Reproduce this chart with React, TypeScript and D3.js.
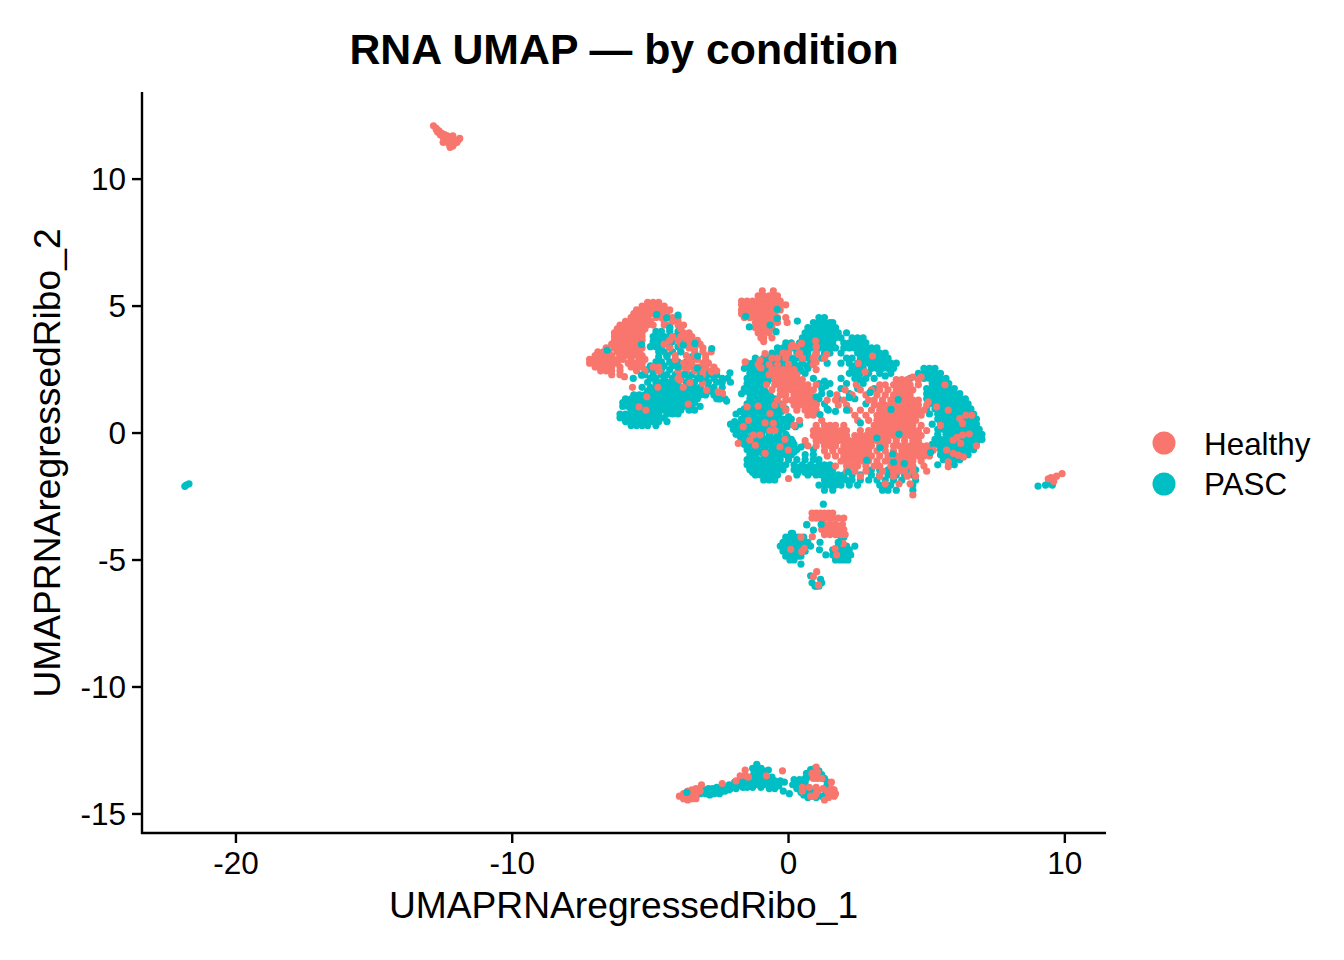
import React from "react";
import * as d3 from "d3";

type Row = [number, number[]];
type Pt = [number, number];

const titleText = "RNA UMAP — by condition";
const xLabel = "UMAPRNAregressedRibo_1";
const yLabel = "UMAPRNAregressedRibo_2";
const xTicks = [-20, -10, 0, 10];
const yTicks = [-15, -10, -5, 0, 5, 10];
const groups = ["Healthy", "PASC"];
const colors = ["#F8766D", "#00BFC4"];

// PASC cells, main cluster: [y, x values]
const pascMainRows: Row[] = [
  [4.55, [1.1, 1.3]],
  [4.35, [0.9, 1.1, 1.3, 1.5, 1.6]],
  [4.15, [0.7, 0.9, 1.1, 1.3, 1.5, 1.7]],
  [3.95, [0.6, 0.8, 1, 1.2, 1.4, 1.6, 1.8, 2.1]],
  [3.75, [0.5, 0.7, 0.9, 1.1, 1.3, 1.5, 1.7, 1.9, 2.3, 2.5, 2.7]],
  [3.55, [-0.1, 0.1, 0.4, 0.6, 0.8, 1, 1.2, 1.4, 1.6, 2, 2.2, 2.4, 2.6, 2.8]],
  [3.35, [-0.4, -0.2, 0, 0.2, 0.4, 0.6, 0.8, 1.1, 1.3, 1.5, 1.7, 2, 2.2, 2.4, 2.6, 2.8, 3, 3.2]],
  [3.15, [-0.6, -0.4, -0.2, 0, 0.3, 0.5, 0.7, 1, 1.3, 1.5, 1.9, 2.5, 2.7, 2.9, 3.1, 3.3, 3.5]],
  [2.95, [-1.2, -0.9, -0.7, -0.5, -0.3, -0.1, 0.1, 0.3, 0.5, 0.7, 0.9, 1.2, 2.1, 2.3, 2.6, 2.8, 3, 3.2, 3.4, 3.6]],
  [2.75, [-1.5, -1.3, -1.1, -0.9, -0.6, -0.3, 0.2, 0.5, 0.8, 1.4, 1.9, 2.2, 2.5, 2.7, 2.9, 3.1, 3.3, 3.5, 3.7, 3.9]],
  [2.55, [-1.6, -1.4, -1, -0.8, -0.5, -0.2, 0.1, 0.4, 0.7, 2.3, 2.5, 2.7, 3, 3.2, 3.4, 3.6, 3.8, 4.9, 5.1, 5.3]],
  [2.35, [-1.4, -1.1, -0.8, -0.5, 0.6, 2.2, 2.4, 2.6, 2.9, 3.3, 3.7, 4.7, 4.9, 5.1, 5.3, 5.5]],
  [2.15, [-1.5, -1.2, -0.9, -0.6, 0.9, 1.9, 2.4, 2.8, 3.1, 4.4, 4.7, 4.9, 5.1, 5.3, 5.5, 5.7]],
  [1.95, [-1.5, -1.2, -0.9, 1.1, 1.5, 2.1, 2.7, 5.2, 5.4, 5.6, 5.8]],
  [1.75, [-1.6, -1.3, -1, 1.2, 1.9, 2.5, 3.1, 5, 5.2, 5.4, 5.6, 5.8, 6]],
  [1.55, [-1.7, -1.4, -1, -0.8, 1.2, 1.5, 2.2, 5, 5.2, 5.4, 5.6, 5.8, 6, 6.2]],
  [1.35, [-1.4, -1.1, -0.8, -0.5, 1.1, 1.8, 2.4, 5, 5.2, 5.4, 5.6, 5.8, 6, 6.2, 6.4]],
  [1.15, [-1.5, -1.2, -0.9, -0.6, -0.3, 1, 1.3, 2.8, 5.1, 5.3, 5.5, 5.7, 5.9, 6.1, 6.3, 6.5]],
  [0.95, [-1.6, -1.3, -1, -0.7, -0.4, -0.1, 1.4, 5, 5.3, 5.5, 5.7, 5.9, 6.1, 6.3, 6.5, 6.6]],
  [0.75, [-1.9, -1.6, -1.3, -1, -0.7, -0.4, 5.1, 5.4, 5.6, 5.8, 6, 6.2, 6.4, 6.6, 6.7]],
  [0.55, [-1.7, -1.4, -1.1, -0.8, -0.5, -0.2, 0.1, 5.4, 5.6, 5.8, 6, 6.2, 6.4, 6.6, 6.8]],
  [0.35, [-2.1, -1.8, -1.5, -1.2, -0.9, -0.6, -0.3, 0.1, 0.4, 5.2, 5.5, 5.7, 5.9, 6.1, 6.3, 6.5, 6.7, 6.8]],
  [0.15, [-2, -1.7, -1.4, -1.1, -0.8, -0.5, -0.2, 5.4, 5.6, 5.8, 6, 6.2, 6.4, 6.6, 6.8, 6.9]],
  [-0.05, [-1.9, -1.6, -1.3, -1, -0.7, -0.4, -0.1, 5.4, 5.7, 5.9, 6.1, 6.3, 6.5, 6.7, 6.9, 7]],
  [-0.25, [-1.7, -1.4, -1.1, -0.8, -0.5, -0.2, 0.1, 5.3, 5.5, 5.7, 5.9, 6.1, 6.3, 6.5, 6.7, 6.9, 7]],
  [-0.45, [-1.6, -1.3, -1, -0.7, -0.4, -0.1, 0.2, 0.6, 5.2, 5.4, 5.6, 5.8, 6, 6.2, 6.4, 6.6, 6.8]],
  [-0.65, [-1.5, -1.2, -0.9, -0.6, -0.3, 0, 0.3, 0.9, 5.1, 5.5, 5.7, 5.9, 6.1, 6.3, 6.5, 6.7]],
  [-0.85, [-1.4, -1.2, -0.9, -0.7, -0.5, -0.3, -0.1, 0.1, 0.6, 0.9, 5.5, 5.7, 5.9, 6.1, 6.3, 6.5]],
  [-1.05, [-1.5, -1.3, -1.1, -0.9, -0.7, -0.5, -0.3, 0, 0.3, 0.6, 0.9, 1.1, 5.6, 5.8, 6, 6.2]],
  [-1.25, [-1.5, -1.3, -1.1, -0.9, -0.7, -0.5, -0.3, -0.1, 0.2, 0.5, 0.8, 1.1, 1.3, 1.5, 5.4, 5.8, 6]],
  [-1.45, [-1.4, -1.2, -1, -0.8, -0.6, -0.4, -0.2, 0.2, 0.5, 0.8, 1, 1.2, 1.4, 1.6, 3, 3.3, 3.6, 4.3, 4.6]],
  [-1.65, [-1.2, -1, -0.8, -0.6, -0.4, 0.3, 0.7, 1, 1.2, 1.4, 1.6, 1.8, 2, 2.3, 2.6, 3, 3.3, 3.6, 3.9, 4.2, 4.5]],
  [-1.85, [-0.9, -0.7, -0.5, 1.3, 1.5, 1.7, 1.9, 2.1, 2.3, 2.6, 2.9, 3.2, 3.5, 3.8, 4.1, 4.6]],
  [-2.05, [1.1, 1.3, 1.5, 1.7, 1.9, 2.2, 2.5, 3.3, 3.5, 3.7, 4.5]],
  [-2.25, [1.3, 1.6, 3.4, 3.6, 3.9, 4.5]],
  // second pass through the sparser parts of the main cluster
  [2.85, [-1.05, -0.75, -0.45, -0.2]],
  [2.65, [-1.25, -0.85, -0.35, -0.05, 0.35, 0.65, 2.4]],
  [2.45, [-1.25, -0.95, -0.65, -0.35, 0.2, 0.45]],
  [2.25, [-1.25, -0.95, -0.65, 2.5, 3.5]],
  [2.05, [-1.35, -1.05, -0.75, 1.3]],
  [1.85, [-1.45, -1.15, 1.35]],
  [1.65, [-1.55, -1.15, -0.85]],
  [1.45, [-1.25, -0.95, -0.65]],
  [1.25, [-1.35, -1.05, -0.75, -0.45]],
  [1.05, [-1.45, -1.15, -0.85, -0.55, -0.25]],
  [0.85, [-1.75, -1.45, -1.15, -0.85, -0.55, -0.25]],
  [0.65, [-1.55, -1.25, -0.95, -0.65, -0.35, 0]],
  [0.45, [-1.95, -1.65, -1.35, -1.05, -0.75, -0.45, -0.1]],
  [0.25, [-1.85, -1.55, -1.25, -0.95, -0.65, -0.35, -0.05, 0.25]],
  [0.05, [-1.85, -1.55, -1.25, -0.95, -0.65, -0.35]],
  [-0.15, [-1.75, -1.55, -1.25, -0.95, -0.65, -0.35, -0.05]],
  [-0.35, [-1.55, -1.25, -0.95, -0.65, -0.35, -0.05, 0.15]],
  [-0.55, [-1.45, -1.15, -0.85, -0.55, -0.25, 0.05, 0.45]],
  [-0.75, [-1.35, -1.05, -0.75, -0.45, -0.15, 0.2]],
  [-1.35, [-1.4, -1.15, -0.85, -0.55, 0.35, 0.65, 0.95]],
  [-1.55, [-1.3, -1.1, -0.9, -0.7, -0.5, 0.35, 0.6, 0.9]],
];

// PASC cells, left cluster
const pascLeftRows: Row[] = [
  [4.15, [-4.3, -3.9]],
  [4, [-4.8, -4.6, -4.3, -4]],
  [3.8, [-4.9, -4.7, -4.5, -4.3, -4.1]],
  [3.6, [-4.9, -4.7, -4.5, -4.2, -3.9]],
  [3.4, [-5, -4.8, -4.6, -4.3, -4]],
  [3.2, [-4.7, -4.5, -4.2]],
  [3, [-4.7, -4.4, -3.5]],
  [2.8, [-4.8, -4.6, -4.3, -4, -3.7]],
  [2.65, [-5, -4.8, -4.5, -4.2, -3.6, -3.1]],
  [2.5, [-5.1, -4.9, -4.6, -4.3, -3.7, -3.4, -3]],
  [2.3, [-5.2, -4.9, -4.6, -4.4, -4.1, -3.8, -3.5, -3.2, -2.9, -2.6]],
  [2.15, [-5, -4.8, -4.5, -4.2, -3.9, -3.6, -3.3, -3, -2.7, -2.4, -2.2]],
  [2, [-5.1, -4.8, -4.6, -4.4, -4.2, -4, -3.7, -3.4, -3.1, -2.9, -2.6, -2.4, -2.1]],
  [1.8, [-5.3, -5, -4.8, -4.6, -4.4, -4.2, -4, -3.8, -3.6, -3.4, -3.2, -2.9, -2.7, -2.4]],
  [1.65, [-5.1, -4.9, -4.7, -4.5, -4.3, -4.1, -3.9, -3.7, -3.5, -3.3, -3.1, -2.8]],
  [1.5, [-5.6, -5.4, -5.2, -5, -4.8, -4.6, -4.4, -4.2, -4, -3.8, -3.6, -3.4, -3.2, -3, -2.7]],
  [1.35, [-5.9, -5.7, -5.5, -5.3, -5.1, -4.9, -4.7, -4.5, -4.3, -4.1, -3.9, -3.7, -3.5, -3.3, -2.6, -2.3]],
  [1.2, [-6, -5.8, -5.6, -5.4, -5.2, -5, -4.8, -4.6, -4.4, -4.2, -4, -3.8, -3.6, -3.4]],
  [1.05, [-6, -5.8, -5.6, -5.4, -5.2, -5, -4.8, -4.6, -4.4, -4.2, -4, -3.8, -3.5, -3.2]],
  [0.9, [-5.7, -5.5, -5.3, -5.1, -4.9, -4.7, -4.5, -4.3, -4.1, -3.9, -3.6, -3.4]],
  [0.75, [-6.1, -5.9, -5.7, -5.5, -5.3, -5.1, -4.9, -4.7, -4.4, -4.2, -4]],
  [0.6, [-6.1, -5.9, -5.7, -5.5, -5.3, -5.1, -4.9, -4.7, -4.5]],
  [0.45, [-5.9, -5.7, -5.5, -5.3, -5.1, -4.9, -4.7, -4.4]],
  [0.3, [-5.7, -5.5, -5.3, -5.1, -4.8]],
];

// PASC cells, satellite groups beneath the Healthy layer
const pascLowerRows: Row[] = [
  [-2.8, [1.26]],
  [-3.95, [0.1, 0.15]],
  [-4.1, [-0.1, 0.05, 0.2, 0.35, 0.55, 1.9, 2]],
  [-4.3, [-0.2, -0.05, 0.1, 0.25, 0.4, 0.55, 0.7, 1.14]],
  [-4.45, [-0.3, -0.15, 0, 0.15, 0.3, 0.45, 0.6, 0.8, 1.8, 1.95, 2.1, 2.4]],
  [-4.6, [1.12, 1.6, 1.75, 1.9, 2.05, 2.2]],
  [-4.65, [-0.2, -0.05, 0.1, 0.25, 0.4, 0.6]],
  [-4.8, [1.35, 1.6, 1.8, 1.95, 2.1, 2.25]],
  [-4.85, [-0.1, 0.05, 0.2, 0.35, 0.45]],
  [-5, [0.05, 0.2, 1.7, 1.85, 2, 2.15]],
  [-5.16, [0.45]],
  [-5.62, [0.8]],
  [-5.76, [1.16]],
  [-5.9, [0.85, 1.2]],
  [-6.03, [0.96, 1, 1.1]],
];

const pascBandPoints: Pt[] = [
  [-3.68, -14.15], [-3.2, -14.2], [-3.1, -14.1], [-3, -14.05], [-2.9, -14], [-2.9, -14.15], [-2.75, -14], [-2.6, -13.95],
  [-2.6, -14.1], [-2.45, -14], [-2.7, -14.2], [-2.3, -13.95], [-2.15, -13.85], [-2, -13.9], [-1.95, -13.75], [-1.85, -13.9],
  [-1.7, -13.8], [-1.7, -13.65], [-1.55, -13.85], [-1.6, -13.6], [-1.4, -13.7], [-1.35, -13.85], [-1.2, -13.65], [-1.2, -13.85],
  [-1.15, -13.05], [-1.3, -13.2], [-1.15, -13.25], [-1, -13.2], [-1.25, -13.4], [-1.05, -13.4], [-0.9, -13.3], [-1.35, -13.55],
  [-1.15, -13.55], [-0.95, -13.55], [-0.73, -13.27], [-0.8, -13.6], [-0.65, -13.7], [-0.5, -13.7], [-0.8, -13.8], [-0.65, -13.85],
  [-0.45, -13.85], [-0.3, -13.7], [-0.35, -13.9], [-0.19, -14.1], [0.03, -14.2], [0.15, -13.85], [0.3, -13.8],
  [0.4, -13.65], [0.5, -13.85], [0.3, -14], [0.55, -14], [0.55, -14.25], [0.7, -14.35], [0.6, -13.6], [0.65, -13.4], [0.8, -13.25],
  [0.95, -13.2], [1.1, -13.3], [1.2, -13.45], [1.3, -13.6], [1.4, -13.75], [1.35, -13.95], [0.65, -13.6], [0.6, -13.75],
  [0.6, -13.95], [0.7, -14.15], [0.85, -14.3], [1, -14.35], [1.2, -14.3], [1.35, -14.2], [1.4, -14.05], [0.85, -13.5], [1, -13.45], [0.75, -14.05],
  [-2.85, -14.25], [-2.5, -14.2], [-2.3, -14.1], [-2.1, -14], [-1.85, -13.75], [-1.5, -13.95], [-1.05, -13.8], [-0.9, -13.85], [-1, -13.65],
  [-0.6, -13.55], [-0.15, -13.75], [0.2, -13.65], [0.45, -14.15], [0.85, -14.15],
  [-3, -14.2], [-2.75, -14.1], [-2.4, -14.1], [-2.15, -14.05], [-1.9, -14], [-1.65, -13.95], [-1.3, -13.95], [-1, -13.95], [-0.7, -14], [-0.5, -14],
  [-21.8, -2.05], [-21.7, -2], [-21.85, -2.1], [9.03, -2.09], [9.4, -2], [9.45, -1.95], [9.3, -2.05], [9.55, -2.05],
];

// Healthy cells
const healthyRows: Row[] = [
  // upper satellite
  [5.6, [-0.95, -0.55]],
  [5.4, [-1.1, -0.9, -0.7, -0.5, -0.4]],
  [5.2, [-1.7, -1.5, -1.3, -1.1, -0.9, -0.7, -0.5, -0.3]],
  [5.05, [-1.7, -1.5, -1.3, -1.1, -0.9, -0.7, -0.5, -0.3, -0.1]],
  [4.85, [-1.7, -1.5, -1.3, -1.1, -0.9, -0.7, -0.5, -0.3]],
  [4.7, [-1.7, -1.5, -1.3, -1.1, -0.9, -0.7, -0.5]],
  [4.55, [-1.6, -1.4, -1.2, -1, -0.8, -0.6, -0.4, -0.1]],
  [4.35, [-1.2, -1, -0.8, -0.6, -0.4, -0.05]],
  [4.15, [-1.2, -1, -0.8, -0.6]],
  [3.95, [-1.1, -0.9, -0.7]],
  [3.75, [-1, -0.9, -0.6]],
  [3.6, [-0.9]],
  // main cluster, left mass
  [3.4, [0.1, 0.3, 1]],
  [3.15, [-0.2, 0, 0.4, 1]],
  [2.95, [-0.6, -0.4, -0.1, 0.5, 0.9, 1.3]],
  [2.7, [-1.1, -0.7, -0.4, 0, 0.9]],
  [2.5, [-0.6, -0.4, -0.2, 0, 0.2, 1]],
  [2.3, [-0.7, -0.5, -0.3, -0.1, 0.1, 0.3]],
  [2.1, [-0.5, -0.3, -0.1, 0.1, 0.3, 0.5]],
  [1.9, [-0.8, -0.5, -0.3, -0.1, 0.1, 0.3, 0.5, 0.7, 1]],
  [1.7, [-0.6, -0.3, -0.1, 0.1, 0.3, 0.5, 0.7, 0.9]],
  [1.5, [-0.3, -0.1, 0.2, 0.4, 0.6, 0.8]],
  [1.3, [-0.4, -0.1, 0.1, 0.3, 0.5, 0.7, 0.9]],
  [1.1, [-0.5, -0.2, 0.2, 0.4, 0.6, 0.8, 1]],
  [0.9, [-0.1, 0.3, 0.6, 0.8, 1]],
  [0.7, [0.7, 0.9]],
  // main cluster, centre mass
  [2.2, [4.5, 4.8]],
  [2.1, [3.9, 4.1, 4.3, 4.7]],
  [1.9, [2.45, 3.3, 3.5, 3.8, 4, 4.2, 4.4, 4.7]],
  [1.7, [2.05, 2.6, 3, 3.3, 3.6, 3.9, 4.1, 4.3, 4.5]],
  [1.5, [1.75, 2.3, 2.8, 3.2, 3.5, 3.8, 4, 4.2, 4.4]],
  [1.3, [1.4, 1.7, 2, 2.9, 3.1, 3.4, 3.7, 3.9, 4.1, 4.3, 4.5, 4.7]],
  [1.1, [1.8, 2.1, 3.1, 3.3, 3.5, 3.7, 3.9, 4.1, 4.3, 4.5, 4.7, 5]],
  [0.9, [2.2, 2.6, 3, 3.3, 3.5, 3.7, 3.9, 4.1, 4.3, 4.5, 4.7, 4.9]],
  [0.7, [2.4, 2.8, 3.2, 3.4, 3.6, 3.8, 4, 4.2, 4.4, 4.6, 4.8]],
  [0.5, [1.2, 2.5, 2.9, 3.2, 3.4, 3.6, 3.8, 4, 4.2, 4.4, 4.6]],
  [0.3, [1, 1.3, 1.5, 1.7, 2, 3.1, 3.3, 3.5, 3.7, 3.9, 4.1, 4.3, 4.5, 4.8, 5.5]],
  [0.1, [0.9, 1.1, 1.3, 1.5, 1.7, 1.9, 2.1, 2.6, 2.9, 3.1, 3.3, 3.5, 3.7, 3.9, 4.1, 4.3, 4.5, 4.7, 5]],
  [-0.1, [0.9, 1.1, 1.3, 1.5, 1.7, 1.9, 2.1, 2.4, 2.6, 2.8, 3, 3.2, 3.4, 3.6, 3.8, 4, 4.2, 4.4, 4.6, 4.8]],
  [-0.3, [0.6, 1, 1.2, 1.4, 1.6, 1.8, 2, 2.2, 2.4, 2.6, 2.8, 3, 3.2, 3.4, 3.6, 3.9, 4.2, 4.5, 4.7]],
  [-0.5, [0.7, 1, 1.3, 1.5, 1.7, 2, 2.2, 2.4, 2.6, 2.8, 3, 3.3, 3.5, 3.8, 4, 4.2, 4.4, 4.6, 4.8, 5]],
  [-0.7, [1.3, 1.6, 1.9, 2.1, 2.3, 2.5, 2.7, 2.9, 3.2, 3.5, 3.8, 4.1, 4.3, 4.5, 4.7, 4.9, 5.1]],
  [-0.9, [1.4, 1.7, 2, 2.2, 2.4, 2.6, 2.8, 3, 3.3, 3.6, 3.9, 4.1, 4.3, 4.5, 4.7, 4.9, 5.1]],
  [-1.1, [1.9, 2.1, 2.3, 2.5, 2.7, 2.9, 3.2, 3.5, 3.7, 3.9, 4.1, 4.3, 4.5, 4.8]],
  [-1.3, [1.7, 2.1, 2.3, 2.5, 2.8, 3.1, 3.3, 3.7, 3.9, 4.1, 4.3, 4.5, 4.9]],
  [-1.5, [2.1, 2.4, 2.8, 3.4, 3.8, 4, 4.2, 4.5, 5]],
  [-1.7, [2.6, 3.3, 3.8, 4.3, 4.6]],
  [-2, [3.5, 4, 4.4]],
  [-2.44, [4.5]],
  // left cluster band
  [5.15, [-5.1, -4.9, -4.7]],
  [5, [-5.3, -5.1, -4.9, -4.7, -4.5]],
  [4.85, [-5.5, -5.3, -5.1, -4.9, -4.7, -4.5, -4.3]],
  [4.7, [-5.6, -5.4, -5.2, -5, -4.8, -4.6, -4.4]],
  [4.55, [-5.7, -5.5, -5.3, -5.1, -4.8, -4.6, -4.4, -4.2, -4]],
  [4.4, [-5.9, -5.7, -5.5, -5.3, -5.2, -5, -4.5, -4.2, -4]],
  [4.25, [-6.1, -5.9, -5.7, -5.5, -5.3, -5.1, -4.9, -4.5, -4.3, -4, -3.8]],
  [4.1, [-6.2, -6, -5.8, -5.6, -5.4, -5.2, -3.9]],
  [3.95, [-6.3, -6.1, -5.9, -5.7, -5.5, -5.3, -3.8, -3.6]],
  [3.8, [-6.3, -6.1, -5.9, -5.7, -5.5, -5.3, -4.2, -3.9, -3.7, -3.5]],
  [3.65, [-6.3, -6.1, -5.9, -5.7, -5.5, -5.3, -4.3, -4, -3.7, -3.5, -3.3]],
  [3.5, [-6.4, -6.2, -6, -5.8, -5.6, -5.4, -4.5, -3.9, -3.6, -3.4, -3.2]],
  [3.35, [-6.6, -6.3, -6.1, -5.9, -5.7, -5.5, -5.3, -4.3, -3.6, -3.4, -3.1]],
  [3.2, [-6.9, -6.7, -6.5, -6.2, -6, -5.8, -5.6, -5.4, -3.9, -3.4, -3.1, -2.8]],
  [3.05, [-7, -6.8, -6.6, -6.4, -6.1, -5.9, -5.7, -5.5, -5.3, -4.4, -4.1, -3.7, -3.4, -3]],
  [2.9, [-7.2, -7, -6.8, -6.6, -6.4, -6.2, -6, -5.7, -5.4, -5.2, -4.1, -3.6, -3.3, -3]],
  [2.75, [-7.2, -7, -6.8, -6.6, -6.4, -6.2, -5.8, -5.6, -5.5, -5.3, -3.8, -3.5, -3.1, -2.9]],
  [2.6, [-7, -6.8, -6.6, -6.4, -6.1, -5.7, -5.5, -5.3, -4.9, -4.7, -3.9, -3.6, -3.3, -3, -2.7]],
  [2.45, [-6.8, -6.6, -6.4, -6.1, -5.5, -5.2, -4.7, -4, -3.7, -3.4, -3.1, -2.8, -2.6]],
  [2.3, [-6.4, -6.1, -3.9]],
  // satellites below
  [-3.15, [0.85, 1, 1.15, 1.3, 1.45, 1.6]],
  [-3.35, [0.85, 1, 1.15, 1.3, 1.45, 1.6, 1.8, 2]],
  [-3.6, [0.66, 1.3, 1.5, 1.7, 1.95]],
  [-3.8, [1.2, 1.4, 1.6, 1.8, 2]],
  [-4, [1.3, 1.5, 1.7, 1.9, 2.05]],
];

const healthyPoints: Pt[] = [
  // specks in the right crescent
  [5.66, 1.9], [5.06, 1.23], [5.36, 1.03], [5.78, 0.9], [6.2, 0.57], [6.42, 0.7], [6.63, 0.7], [6.3, 0.38], [5.96, -0.28], [6.1, -0.17],
  [6.3, -0.08], [6.54, -0.04], [6.23, -0.41], [6.8, -0.5], [5.72, -0.67], [5.96, -0.8], [6.14, -0.87], [6.33, -0.94], [5.78, -1.13], [5.78, -1.33], [5.24, -0.67],
  // specks in the lower left of the main cluster
  [-1.5, 1.03], [-1.1, 1.06], [-0.67, 0.77], [-1.45, 0.5], [-1.64, 0.25], [-0.85, 0.4], [-0.55, 0.38], [-1.27, -0.08], [-1.03, -0.08], [-0.67, 0.1], [-0.49, 0.1],
  [-0.13, -0.25], [-1.82, -0.41], [-1.4, -0.28], [-1.2, -0.48], [-0.85, -0.8], [-0.31, -0.54], [-0.01, -0.67], [0, -1.79], [0.2, 0.3], [0.4, 0.5],
  [-1.57, 2.8], [-1.03, 2.87], [-0.85, 3.13], [-1, 2.57], [-2.4, 1.56], [0.47, 3.53], [0.15, 3.46], [0.98, 3.63], [0.96, 3.03], [0.35, 3.1], [1.38, 3.1], [1, 2.8], [3.04, 3.03], [2.53, 2.74], [2.77, 2.41],
  // left cluster
  [-5.94, 2.22], [-4.68, 2.45], [-4, 2.15], [-3.11, 2.3], [-2.78, 2.41], [-3.93, 2.08], [-3.57, 1.98], [-3.11, 1.95], [-2.96, 1.69], [-2.54, 1.62], [-2.39, 1.56],
  [-5.65, 1.8], [-4.73, 1.8], [-3.81, 1.8], [-5.13, 1.43], [-5.41, 1.03], [-5.16, 0.9], [-3.63, 1.14],
  // top and right islands
  [-12.85, 12.1], [-12.75, 12], [-12.65, 11.9], [-12.55, 11.8], [-12.45, 11.75], [-12.35, 11.7], [-12.6, 11.75], [-12.4, 11.55], [-12.2, 11.5], [-12.3, 11.4], [-12.15, 11.3], [-12.2, 11.6], [-11.95, 11.55], [-12, 11.45],
  [-12.7, 11.85], [-12.5, 11.65], [-12.3, 11.55], [-12.75, 11.95], [-12.1, 11.4], [-12.15, 11.7], [-12.5, 11.45], [-12.25, 11.25], [-11.9, 11.6],
  [9.5, -1.75], [9.7, -1.7], [9.9, -1.6], [9.6, -1.9], [9.4, -1.8],
  // small groups below
  [0.45, -4.1], [0.86, -4.08], [0.08, -4.58], [0.57, -4.54], [0.48, -4.67], [1.98, -4.35], [1.74, -4.8], [1.68, -4.55], [1.02, -5.46], [0.9, -5.66], [1.08, -5.99],
  // bottom band
  [-3.95, -14.3], [-3.8, -14.2], [-3.8, -14.4], [-3.65, -14.1], [-3.65, -14.3], [-3.65, -14.45], [-3.5, -14.05], [-3.5, -14.25], [-3.5, -14.4], [-3.35, -14], [-3.35, -14.2], [-3.35, -14.4], [-3.2, -14.1], [-3.15, -13.85],
  [-1.57, -13.27], [-1.75, -13.5], [-1.55, -13.5], [-1.45, -13.55], [-1.9, -13.7], [-2.4, -13.8], [-0.22, -13.3], [-0.8, -13.5],
  [0.85, -13.4], [1, -13.15], [1.05, -13.35], [0.9, -13.6], [1.05, -13.6], [1.2, -13.6], [0.5, -13.95], [0.5, -14.1], [0.75, -13.95], [1, -13.95], [1.05, -14.1], [1, -14.2],
  [0.8, -14.3], [0.95, -14.3], [1.25, -14], [1.4, -14.1], [1.55, -13.75], [1.55, -14], [1.65, -14.05], [1.7, -14.2], [1.65, -14.3], [1.45, -14.35], [1.3, -14.45], [1.45, -14.15],
];

// PASC cells drawn last, over the Healthy layer
const pascTopPoints: Pt[] = [
  [-1.55, 4.6], [-1.42, 4.18], [-0.41, 4.87], [-0.41, 4.51], [-0.67, 4.25], [-0.45, 3.99], [0.32, 4.41],
  [3.97, 1.32], [3.71, 0.93], [3.31, -0.58], [3.77, -0.83], [4, -0.04], [5.14, -0.77], [4.19, -1.2], [3.8, -1.15], [2.83, -1.07], [2.16, -1.53], [3.2, -0.2],
  [1, 1.43], [1.44, 0.9], [1.14, 0.73], [2.6, 2.1], [2.95, 1.6], [2.1, 0.9], [2.6, 0.4], [1.7, 0.85], [2.2, 1.4],
  [-4.77, 4.67], [-4.41, 4.54], [-4, 4.64], [-6.56, 3.26], [-5.32, 3.49], [-4.3, 4.15], [-3.81, 3.46], [-3.39, 3.53], [-2.78, 3.33], [-2.12, 2.37], [-2.24, 1.26], [-2.5, 1.34], [-3.29, 3.03], [-5.32, 2.28], [-5.62, 2.15],
  [-4.4, 3.05], [-3.9, 3.2], [-4, 2.6], [-3.3, 2.55], [-3.75, 2.3], [-3.2, 2.15],
  [0.9, -3.82], [1.18, -3.6], [0.66, -3.62], [1.8, -4.3],
  [-3.68, -14.15],
];

const expand = (rows: Row[]): Pt[] => rows.flatMap(([y, xs]) => xs.map((x) => [x, y] as Pt));

const width = 1344;
const height = 960;
const x = d3.scaleLinear().domain([-23.4, 11.49]).range([142, 1106]);
const y = d3.scaleLinear().domain([-15.75, 13.43]).range([833, 92]);

const font = "'Liberation Sans', Arial, sans-serif";
const dotR = 3.6;

function Dots({ pts, fill }: { pts: Pt[]; fill: string }) {
  return (
    <g fill={fill}>
      {pts.map(([a, b], i) => (
        <circle key={i} cx={x(a)} cy={y(b)} r={dotR} />
      ))}
    </g>
  );
}

export default function App() {
  const pascBase = [...expand(pascMainRows), ...expand(pascLeftRows), ...expand(pascLowerRows), ...pascBandPoints];
  const healthy = [...expand(healthyRows), ...healthyPoints];
  return (
    <svg width={width} height={height} style={{ position: "absolute", left: 0, top: 0, background: "#fff" }} fontFamily={font}>
      <text x={624} y={64} textAnchor="middle" fontSize={42.8} fontWeight="bold">{titleText}</text>
      <Dots pts={pascBase} fill={colors[1]} />
      <Dots pts={healthy} fill={colors[0]} />
      <Dots pts={pascTopPoints} fill={colors[1]} />
      <line x1={142} x2={142} y1={92} y2={834} stroke="#000" strokeWidth={2.4} />
      <line x1={141} x2={1106} y1={833} y2={833} stroke="#000" strokeWidth={2.4} />
      {xTicks.map((t) => (
        <g key={t}>
          <line x1={x(t)} x2={x(t)} y1={833} y2={843} stroke="#000" strokeWidth={2.4} />
          <text x={x(t)} y={874} textAnchor="middle" fontSize={31.5}>{t}</text>
        </g>
      ))}
      {yTicks.map((t) => (
        <g key={t}>
          <line x1={132} x2={142} y1={y(t)} y2={y(t)} stroke="#000" strokeWidth={2.4} />
          <text x={126} y={y(t) + 11} textAnchor="end" fontSize={31.5}>{t}</text>
        </g>
      ))}
      <text x={623.5} y={918} textAnchor="middle" fontSize={37.2}>{xLabel}</text>
      <text transform={`translate(60,463) rotate(-90)`} textAnchor="middle" fontSize={37.2}>{yLabel}</text>
      {groups.map((g, i) => (
        <g key={g}>
          <circle cx={1164} cy={443 + i * 41} r={11.5} fill={colors[i]} />
          <text x={1204} y={455 + i * 40} fontSize={31.4}>{g}</text>
        </g>
      ))}
    </svg>
  );
}
